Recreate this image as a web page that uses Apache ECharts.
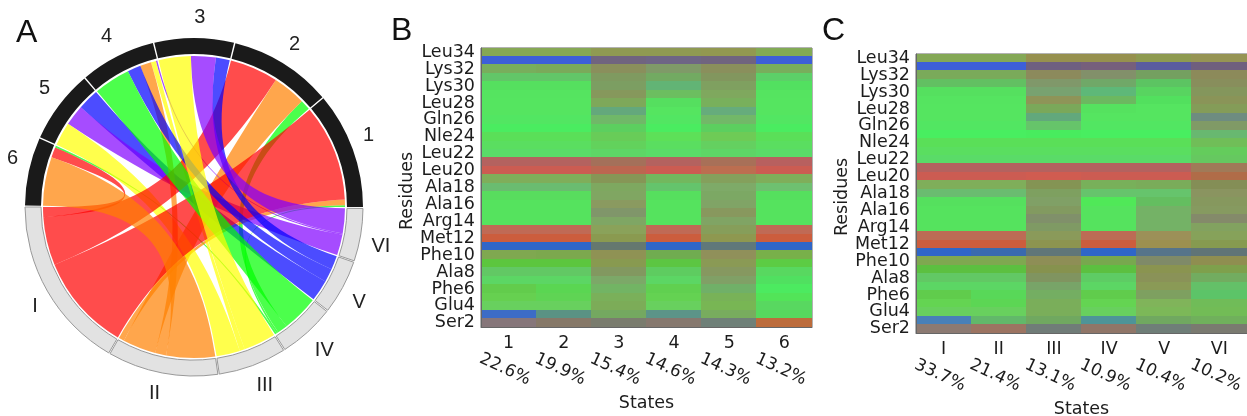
<!DOCTYPE html>
<html><head><meta charset="utf-8">
<style>html,body{margin:0;padding:0;background:#fff}#c{width:1247px;height:416px}</style>
<script src="https://cdn.jsdelivr.net/npm/echarts@6/dist/echarts.min.js"></script>
</head><body><div id="c"></div>
<script>
const residues = ["Leu34","","Lys32","","Lys30","","Leu28","","Gln26","","Nle24","","Leu22","","Leu20","","Ala18","","Ala16","","Arg14","","Met12","","Phe10","","Ala8","","Phe6","","Glu4","","Ser2"];
const statesB = ["1","2","3","4","5","6"];
const shareB = ["22.6%","19.9%","15.4%","14.6%","14.3%","13.2%"];
const statesC = ["I","II","III","IV","V","VI"];
const shareC = ["33.7%","21.4%","13.1%","10.9%","10.4%","10.2%"];
// one row per residue, Leu34 first; each cell is the mixed structure colour
const colorsB = [
["86a854","86a854","8f9a52","8f9a52","929850","82aa55"],
["3d5fd8","3d5fd8","70647f","6e6585","70647f","3d5fd8"],
["78ae5c","7aaa5a","8a8f5c","7f9a68","8a8f5c","78ae5c"],
["62c668","62c668","7f9a60","72aa62","82965e","5cd068"],
["55e05f","55e05f","7c9e62","62b475","7fa060","52e060"],
["55e460","55e460","86985c","6cbe60","7fa85e","55e460"],
["55e560","55e560","7ea85a","55df5f","78b05c","55e560"],
["55e560","55e560","64a87c","55e560","66ac7c","55e560"],
["52e662","52e662","70b868","52e662","72b868","52e662"],
["4aec60","4aec60","5ccf5f","4aec60","5ccf5f","4aec60"],
["5adf58","5adf58","68cc58","5de058","6ecb56","5adf58"],
["5ade60","5ade60","62d25c","5ade60","64d060","5ade60"],
["5adb68","5adb68","5ed566","5adb68","5ed566","5adb68"],
["b4625f","b4625f","a4705a","b4625f","a87058","b8605f"],
["cc5c52","cc5c52","bc6650","cc5c52","bc6e50","cc5c52"],
["7fae5a","7fae5a","869656","72b85e","84a05c","7fae5a"],
["6abc70","6abc70","7ea860","64c46c","7eaa68","6ec070"],
["58dd5e","58dd5e","80a662","56df5e","7ca864","55e05e"],
["55e35e","55e35e","8a9a60","55e35e","80a466","55e35e"],
["55e35e","55e35e","80966a","55e35e","88985e","55e35e"],
["55e35e","55e35e","7fa664","55e35e","80a464","55e35e"],
["c06a55","c06a55","8aa25a","c06a55","869e5a","c06a55"],
["cc5d3d","cc5d3d","8a9a50","cc5d3d","8e9850","cc5d3d"],
["2f66c8","2f66c8","65786f","2f66c8","60787a","2f66c8"],
["7fa850","7ca84e","8f9254","70ac50","90905a","78b04a"],
["5cc63e","5cc63e","889a50","5cc642","8a9a55","5ccc44"],
["62c864","62c864","829860","5ecc60","869860","58d860"],
["5cd664","5cd664","7ca868","5cd664","80a066","50e060"],
["62cc4c","5ad652","72b464","60d050","70b068","4cea60"],
["66d050","5fd454","7ab05a","64d252","78b258","52e458"],
["68d05e","68d05e","7cac58","68d05e","78b654","58d860"],
["3c6cc6","5a9284","74a860","5c9488","78ac5e","56d85e"],
["86767a","867868","7a7c6e","86786e","6f8078","bc6c3c"]];
const colorsC = [
["84a856","84a856","96904e","96904e","8e9a50","969454"],
["3d5fd8","3d5fd8","6e5f80","765f7c","5a5c9f","6f5f7e"],
["7aaa5a","7aaa5a","8c8a5c","82906a","74a060","8c8a5a"],
["62c062","62c062","80986a","70a868","5cc462","888e5c"],
["55e05f","55e05f","78a270","5eb878","58d460","84965c"],
["55e460","55e460","8e9458","6cb860","52e05e","8a9458"],
["55e560","55e560","7aa85a","55e25f","55e560","849c58"],
["55e560","55e560","62a87c","55e560","55e560","6e8c80"],
["52e662","52e662","66c46a","52e662","52e662","809a66"],
["48ee60","48ee60","48ec5e","48ee60","48ee60","68b870"],
["5adf58","5adf58","5adf58","5adf58","5adf58","70be58"],
["5ade60","5ade60","5ade60","5ade60","5ade60","64cc5c"],
["5adb68","5adb68","5adb68","5adb68","5adb68","66c860"],
["b4625f","b4625f","b4625f","b4625f","b4625f","a07a58"],
["cc5c52","cc5c52","d05c50","cc5c52","cc5c52","b06c48"],
["7fae5a","7fae5a","849454","78b05a","7aac5a","848e56"],
["6abc70","6abc70","7ea060","66c46c","66c46c","8a9460"],
["55e05e","55e05e","80a066","50e858","64be60","86985e"],
["55e35e","55e35e","829a60","55e35e","74b266","869a60"],
["55e35e","55e35e","80906a","55e35e","74b266","848a6a"],
["55e35e","55e35e","7f9a64","55e35e","74b266","82a260"],
["bc6c55","bc6c55","8a9a5a","bc6c55","9c9058","86a25a"],
["cc5d3d","cc5d3d","8c9450","cc5d3d","9c9050","869a50"],
["2f66c8","3a6aae","607678","2f66c8","56748a","607476"],
["7fa850","7fa850","8e8e56","78a84e","7f8a68","8f8e50"],
["5cc040","5cc040","86924e","5cc040","8a9450","7ea04c"],
["62c864","62c864","809460","5ecc64","8a9258","72ac60"],
["5cd664","5cd664","78a468","5cd664","8a9a56","64c068"],
["60cc4c","58d858","74ae62","60cc4c","7ea060","5cc468"],
["64d452","5cd654","7aae5a","64d452","80b45a","70bc58"],
["68d05e","68d05e","7aae5a","68d05e","7cb858","72bc56"],
["4880b8","62b86a","70a860","4e9498","70a860","70b05c"],
["8c7a72","9c7462","707c78","907668","6f7e78","7a7a70"]];

// chord: node order runs anticlockwise from 3 o'clock
const chordNodes = ["1","2","3","4","5","6","I","II","III","IV","V","VI"];
const chordFrom = ["6","1","2","1","2","5","5","4","5","4","4","6","2","1","6","4","4","3","3","3"];
const chordTo   = ["IV","IV","IV","II","II","V","VI","VI","III","III","II","I","I","I","II","V","IV","V","VI","III"];
const chordVal  = [0.4,0.4,2.2,1.2,7.2,4.6,4.5,0.3,5.1,1.1,2.4,2.2,10.5,21,10.6,2.9,7.9,3.0,5.4,7.0];
const ribbonColor = {I:"#ff0000",II:"#ff8000",III:"#ffff00",IV:"#00ff00",V:"#0000ff",VI:"#8000ff"};

const textColor = "#1c1c1c", font = "DejaVu Sans", fs = 17.5;
function heat(i, colors){
  const data = [];
  colors.forEach((row,y)=>row.forEach((c,x)=>data.push([x,y])));
  return {type:"custom",xAxisIndex:i*2,yAxisIndex:i,data,silent:true,clip:true,z:1,
    renderItem(params,api){
      const x=api.value(0),y=api.value(1),p=api.coord([x,y]),s=api.size([1,1]);
      return {type:"rect",shape:{x:Math.floor(p[0]-s[0]/2),y:Math.floor(p[1]-s[1]/2),width:Math.ceil(s[0])+1,height:Math.ceil(s[1])+1},style:{fill:"#"+colors[y][x]}};
    }};
}
function xAxes(g,cats,share){
  return [
   {type:"category",gridIndex:g,data:cats,position:"bottom",z:5,axisTick:{alignWithLabel:true,length:4,lineStyle:{color:"#555"}},
    axisLine:{lineStyle:{color:"#666"}},axisLabel:{fontFamily:font,fontSize:fs,color:textColor,margin:7,interval:0},splitLine:{show:false}},
   {type:"category",gridIndex:g,data:share,position:"bottom",offset:41,axisTick:{show:false},axisLine:{show:false},
    axisLabel:{fontFamily:font,fontSize:17,color:textColor,rotate:-25,margin:3,interval:0,align:"center",padding:[0,8,0,0]},
    name:"States",nameLocation:"middle",nameGap:25,nameTextStyle:{fontFamily:font,fontSize:fs,color:textColor}}
  ];
}
function yAxis(g){
  return {type:"category",gridIndex:g,data:residues,inverse:true,z:5,axisTick:{alignWithLabel:true,length:3,interval:0,lineStyle:{color:"#555"}},
    axisLine:{lineStyle:{color:"#666"}},axisLabel:{fontFamily:font,fontSize:fs,color:textColor,margin:6,interval:0,padding:[3,0,0,0]},
    name:"Residues",nameLocation:"middle",nameGap:59,nameTextStyle:{fontFamily:font,fontSize:fs,color:textColor,padding:[0,7,0,0]}};
}
const letter=(t,x,y)=>({text:t,left:x,top:y,textStyle:{fontFamily:"Liberation Sans",fontSize:32,fontWeight:"normal",color:"#111"}});
const links=(style)=>chordVal.map((v,i)=>({source:chordFrom[i],target:chordTo[i],value:v,lineStyle:style}));
const option={
  animation:false,backgroundColor:"#fff",
  title:[letter("A",11,12),letter("B",386,10),letter("C",817,10)],
  grid:[{left:481,top:48,width:331,height:279,show:true,borderColor:"#666",borderWidth:1,outerBoundsMode:"none"},
        {left:916,top:54,width:331,height:279,show:true,borderColor:"#666",borderWidth:1,outerBoundsMode:"none"}],
  xAxis:[...xAxes(0,statesB,shareB),...xAxes(1,statesC,shareC)],
  yAxis:[yAxis(0),yAxis(1)],
  series:[heat(0,colorsB),heat(1,colorsC),
   {type:"chord",center:[194,207],radius:[151,152],startAngle:0,clockwise:false,padAngle:0.5,minAngle:0,silent:true,
    data:chordNodes.map(n=>({name:n,itemStyle:{color:ribbonColor[n]||"#000",opacity:0,borderWidth:0}})),
    links:links({color:"target",opacity:0.7,width:0}),
    label:{show:false},emphasis:{disabled:true}},
   {type:"chord",center:[194,207],radius:[153,169],startAngle:0,clockwise:false,padAngle:0.5,minAngle:0,silent:true,
    data:chordNodes.map((n,i)=>({name:n,
       itemStyle:{color:i<6?"#1a1a1a":"#e2e2e2",borderColor:i<6?"#1a1a1a":"#999",borderWidth:i<6?0:1,borderRadius:0}})),
    links:links({color:"source",opacity:0,width:0}),
    label:{show:true,position:"outside",distance:11,align:"center",verticalAlign:"middle",fontFamily:"Liberation Sans",fontSize:20,color:"#222"},
    emphasis:{disabled:true}}
  ]
};
echarts.init(document.getElementById("c"),null,{renderer:"canvas"}).setOption(option);
</script></body></html>
